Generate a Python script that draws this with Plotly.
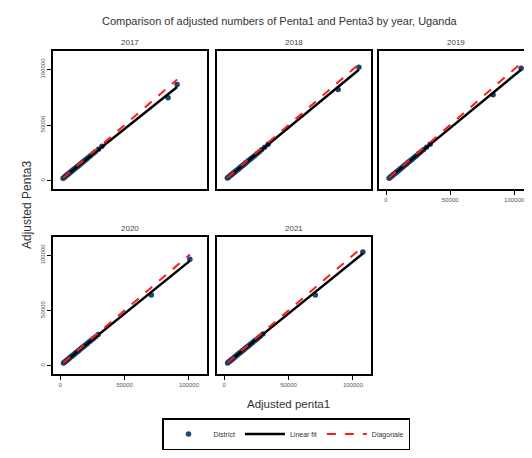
import numpy as np
import plotly.graph_objects as go

W, H = 532, 458

years = ["2017", "2018", "2019", "2020", "2021"]

penta1_2017 = [2300, 2900, 3500, 4200, 4700, 5300, 5900, 6400, 7000, 7600, 8100, 8800, 9400, 10100, 10700, 11400, 12100, 12900, 13600, 14400, 15200, 16100, 17000, 17900, 18800, 19900, 21000, 22400, 23800, 25600, 27400, 29800, 32500, 83800, 90800]
penta3_2017 = [2100, 2700, 3300, 3900, 4500, 5000, 5500, 6100, 6600, 7100, 7800, 8300, 8900, 9500, 10200, 10700, 11500, 12100, 12900, 13600, 14300, 15300, 16000, 17000, 17800, 18700, 19900, 21200, 22600, 24300, 26000, 28300, 31000, 74500, 86400]

penta1_2018 = [2500, 3100, 3800, 4400, 5000, 5600, 6200, 6800, 7400, 8000, 8600, 9300, 10000, 10700, 11400, 12100, 12900, 13700, 14500, 15300, 16200, 17100, 18000, 19000, 20100, 21200, 22500, 23900, 25400, 27200, 29100, 31500, 34200, 88500, 104600]
penta3_2018 = [2300, 2900, 3600, 4100, 4700, 5300, 5800, 6400, 7000, 7500, 8100, 8800, 9400, 10100, 10800, 11400, 12200, 12900, 13700, 14500, 15300, 16200, 17000, 18000, 19000, 20100, 21300, 22700, 24100, 25800, 27700, 30000, 32600, 81800, 101800]

penta1_2019 = [2400, 3000, 3700, 4300, 4900, 5500, 6100, 6700, 7300, 7900, 8600, 9200, 9900, 10600, 11300, 12000, 12800, 13600, 14400, 15300, 16200, 17100, 18100, 19100, 20200, 21400, 22700, 24100, 25600, 27300, 29200, 31600, 34400, 83600, 105500]
penta3_2019 = [2200, 2800, 3500, 4000, 4600, 5200, 5700, 6300, 6900, 7500, 8100, 8700, 9300, 10000, 10700, 11300, 12100, 12900, 13600, 14500, 15300, 16200, 17100, 18100, 19100, 20300, 21500, 22800, 24300, 25900, 27700, 30000, 32700, 77300, 100900]

penta1_2020 = [2600, 3200, 3900, 4500, 5100, 5700, 6300, 6900, 7500, 8200, 8800, 9500, 10200, 10900, 11600, 12300, 13100, 13900, 14700, 15600, 16500, 17400, 18400, 19400, 20500, 21700, 23000, 24400, 25900, 27600, 29600, 70800, 100700]
penta3_2020 = [2400, 3000, 3700, 4200, 4800, 5400, 5900, 6500, 7100, 7800, 8300, 9000, 9700, 10300, 11000, 11700, 12500, 13200, 14000, 14900, 15700, 16600, 17500, 18500, 19500, 20700, 21900, 23300, 24700, 26300, 28200, 64000, 96400]

penta1_2021 = [2700, 3300, 4000, 4600, 5200, 5800, 6400, 7000, 7700, 8300, 9000, 9700, 10400, 11100, 11800, 12600, 13400, 14200, 15000, 15900, 16800, 17800, 18800, 19800, 20900, 22100, 23400, 24800, 26400, 28100, 30100, 70800, 107700]
penta3_2021 = [2500, 3100, 3800, 4300, 4900, 5500, 6000, 6600, 7300, 7900, 8500, 9200, 9900, 10500, 11200, 12000, 12700, 13500, 14300, 15100, 16000, 16900, 17900, 18800, 19900, 21000, 22300, 23600, 25100, 26700, 28600, 64000, 103000]

tick_vals = [0, 50000, 100000]
tick_text = ["0", "50000", "100000"]

data = {
    "2017": (penta1_2017, penta3_2017),
    "2018": (penta1_2018, penta3_2018),
    "2019": (penta1_2019, penta3_2019),
    "2020": (penta1_2020, penta3_2020),
    "2021": (penta1_2021, penta3_2021),
}

cols = [(45, 199), (209, 363), (371, 524)]
rows = [(43, 181), (229, 366)]
panels = [(0, 0), (0, 1), (0, 2), (1, 0), (1, 1)]

FONT = "Liberation Sans, Arial, sans-serif"
NAVY = "#1a476f"

fig = go.Figure()
layout = {}

for i, yr in enumerate(years):
    r, c = panels[i]
    n = "" if i == 0 else str(i + 1)
    xa, ya = "x" + n, "y" + n
    x, y = data[yr]
    xs = np.array(x, dtype=float)
    ys = np.array(y, dtype=float)
    b, a = np.polyfit(xs, ys, 1)
    xl = np.array([xs.min(), xs.max()])
    first = i == 0
    fig.add_trace(go.Scatter(x=x, y=y, mode="markers", name="District",
                             marker=dict(color=NAVY, size=5.5, line=dict(width=0)),
                             xaxis=xa, yaxis=ya, showlegend=first, legendrank=1))
    fig.add_trace(go.Scatter(x=xl, y=a + b * xl, mode="lines", name="Linear fit",
                             line=dict(color="black", width=2.5),
                             xaxis=xa, yaxis=ya, showlegend=first, legendrank=2))
    fig.add_trace(go.Scatter(x=xl, y=xl, mode="lines", name="Diagonale",
                             line=dict(color="#ff1a1a", width=2, dash="dash"),
                             xaxis=xa, yaxis=ya, showlegend=first, legendrank=3))

    x0, x1 = cols[c]
    y0, y1 = rows[r]
    show_x = (r == 1) or (c == 2)
    show_y = (c == 0)
    layout["xaxis" + n] = dict(
        domain=[x0 / W, x1 / W], anchor=ya, range=[-5500, 114000],
        showgrid=False, zeroline=False, showline=True, linecolor="black",
        linewidth=2, mirror=True,
        tickvals=tick_vals if show_x else [], ticktext=tick_text,
        ticks="outside" if show_x else "", ticklen=4, tickcolor="black",
        tickfont=dict(size=6, color="#555555", family=FONT),
    )
    layout["yaxis" + n] = dict(
        domain=[1 - y1 / H, 1 - y0 / H], anchor=xa, range=[-7500, 116500],
        showgrid=False, zeroline=False, showline=True, linecolor="black",
        linewidth=2, mirror=True,
        tickvals=tick_vals if show_y else [], ticktext=tick_text,
        ticks="outside" if show_y else "", ticklen=4, tickcolor="black",
        tickangle=-90,
        tickfont=dict(size=6, color="#555555", family=FONT),
    )

annotations = []
for i, yr in enumerate(years):
    r, c = panels[i]
    x0, x1 = cols[c]
    y0, y1 = rows[r]
    annotations.append(dict(text=yr, x=(x0 + x1) / 2 / W, y=1 - (y0 - 2) / H,
                            xref="paper", yref="paper", showarrow=False,
                            xanchor="center", yanchor="bottom",
                            font=dict(size=8, color="#444444", family=FONT)))

annotations.append(dict(text="Comparison of adjusted numbers of Penta1 and Penta3 by year, Uganda",
                        x=272 / W, y=1 - 13 / H, xref="paper", yref="paper",
                        showarrow=False, xanchor="center", yanchor="middle",
                        font=dict(size=11, color="#333333", family=FONT)))
annotations.append(dict(text="Adjusted Penta3", x=19 / W, y=1 - 197 / H,
                        xref="paper", yref="paper", showarrow=False, textangle=-90,
                        xanchor="center", yanchor="middle",
                        font=dict(size=12, color="#333333", family=FONT)))
annotations.append(dict(text="Adjusted penta1", x=280 / W, y=1 - 396 / H,
                        xref="paper", yref="paper", showarrow=False,
                        xanchor="center", yanchor="middle",
                        font=dict(size=11.5, color="#333333", family=FONT)))

fig.update_layout(
    width=W, height=H,
    margin=dict(l=0, r=0, t=0, b=0),
    paper_bgcolor="white", plot_bgcolor="white",
    annotations=annotations,
    showlegend=True,
    legend=dict(orientation="h", x=278 / W, y=1 - 410 / H,
                xanchor="center", yanchor="top",
                bordercolor="black", borderwidth=1.5,
                font=dict(size=7, color="#333333", family=FONT),
                itemwidth=40,
                bgcolor="white"),
    **layout,
)

fig.write_html("out.html")
